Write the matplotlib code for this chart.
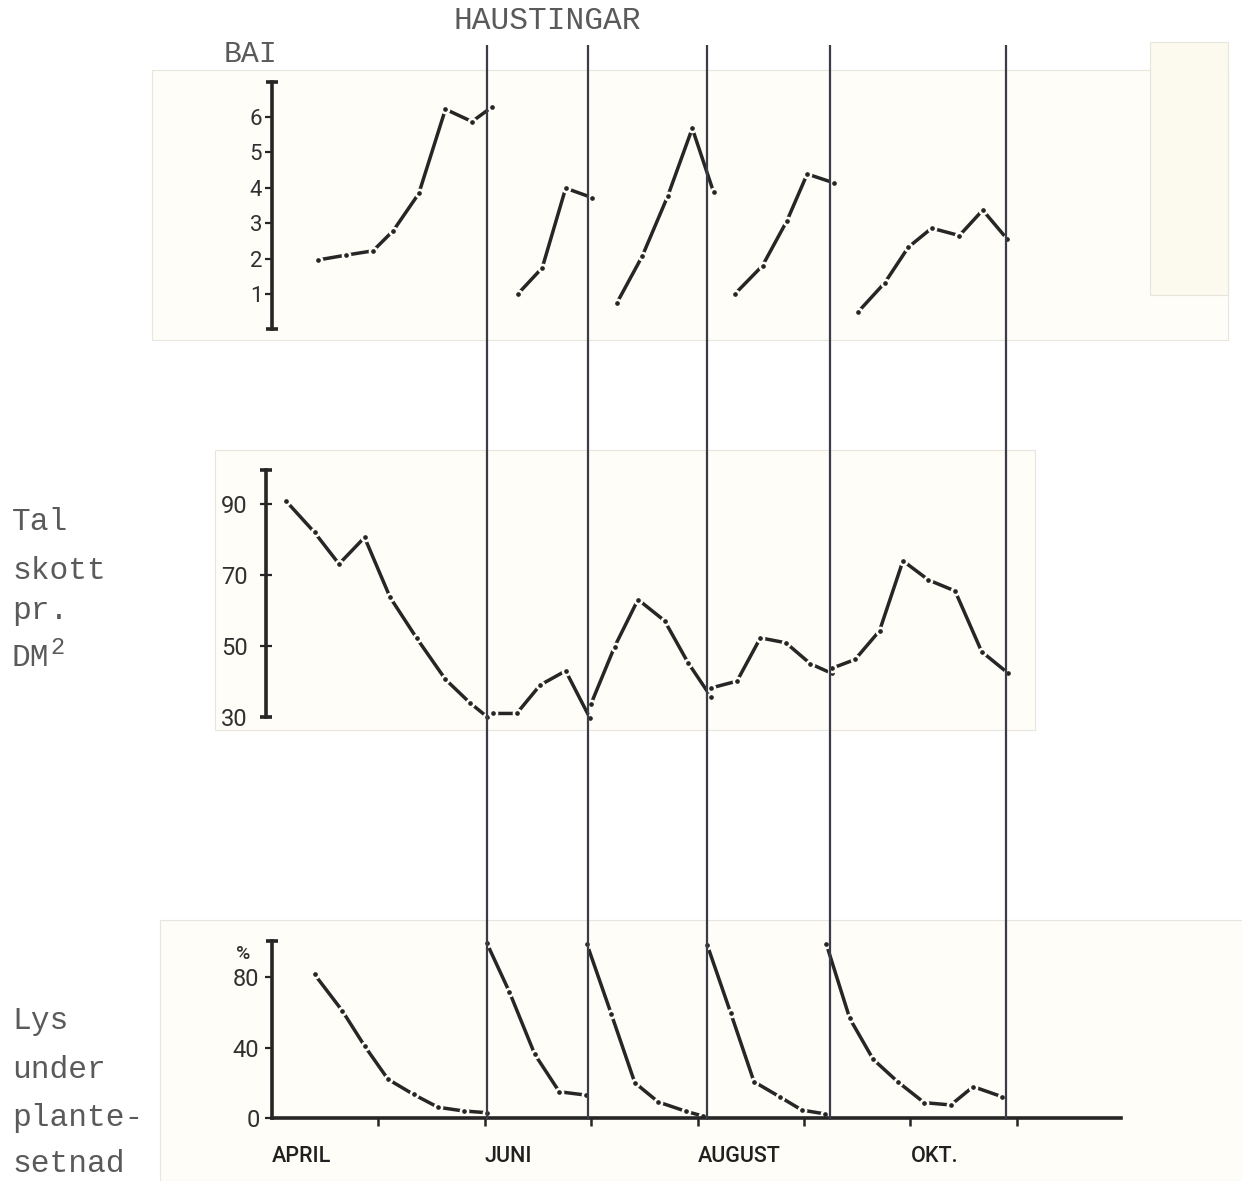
import matplotlib
matplotlib.use("Agg")
import matplotlib.pyplot as plt
from matplotlib.patches import Rectangle

# x = months after 1 April (0 = April, 2 = June, 4 = August, 6 = October)
harvests = [2.02, 2.97, 4.09, 5.24, 6.90]
month_ticks = [1, 2, 3, 4, 5, 6, 7]
month_names = ["APRIL", "JUNI", "AUGUST", "OKT."]
month_pos = [0, 2, 4, 6]

# BAI, one list per regrowth period
bai_x = [[0.43, 0.70, 0.95, 1.14, 1.38, 1.63, 1.88, 2.07],
         [2.31, 2.54, 2.76, 3.01],
         [3.24, 3.48, 3.72, 3.95, 4.15],
         [4.35, 4.61, 4.84, 5.03, 5.28],
         [5.51, 5.76, 5.98, 6.20, 6.46, 6.68, 6.91]]
bai_y = [[1.96, 2.10, 2.22, 2.79, 3.84, 6.22, 5.87, 6.29],
         [1.00, 1.74, 3.99, 3.72],
         [0.74, 2.07, 3.77, 5.68, 3.88],
         [1.00, 1.80, 3.07, 4.39, 4.14],
         [0.50, 1.32, 2.32, 2.86, 2.65, 3.37, 2.55]]

# Tal skott pr. dm2
skott_x = [[0.13, 0.40, 0.63, 0.87, 1.11, 1.36, 1.63, 1.86, 2.02],
           [2.08, 2.30, 2.52, 2.76, 2.99],
           [3.00, 3.22, 3.44, 3.69, 3.91, 4.13],
           [4.13, 4.37, 4.59, 4.83, 5.06, 5.26],
           [5.26, 5.48, 5.71, 5.93, 6.17, 6.42, 6.67, 6.92]]
skott_y = [[90.9, 82.0, 73.1, 80.6, 63.7, 52.2, 40.6, 34.0, 30.1],
           [31.0, 31.0, 39.0, 43.0, 29.6],
           [33.8, 49.8, 63.1, 57.1, 45.3, 35.5],
           [38.2, 40.1, 52.3, 50.9, 45.0, 42.3],
           [43.7, 46.2, 54.3, 74.0, 68.6, 65.5, 48.4, 42.3]]

# Lys under plantesetnad (%)
lys_x = [[0.40, 0.66, 0.87, 1.09, 1.33, 1.56, 1.80, 2.02],
         [2.02, 2.23, 2.47, 2.70, 2.95],
         [2.96, 3.19, 3.41, 3.63, 3.89, 4.05],
         [4.09, 4.31, 4.53, 4.77, 4.98, 5.20],
         [5.21, 5.43, 5.65, 5.88, 6.13, 6.38, 6.59, 6.86]]
lys_y = [[81.5, 60.9, 40.9, 22.0, 13.4, 6.1, 4.0, 3.0],
         [99.1, 71.7, 36.1, 14.9, 13.0],
         [98.7, 58.8, 20.0, 9.1, 3.8, 1.1],
         [98.3, 59.8, 20.6, 12.1, 4.5, 2.3],
         [98.7, 56.5, 33.3, 20.6, 8.7, 7.4, 17.8, 12.1]]

W, H = 1242, 1181
PPM = 106.4          # pixels per month
X0 = 272             # pixel of 1 April
XMIN, XMAX = -0.1, 8.0
ink = "#262626"
paper = "#fefdf8"
typecol = "#5a5a5a"
numfont = "Roboto"
typefont = "Liberation Mono"

fig = plt.figure(figsize=(W / 100, H / 100), dpi=100)
fig.patch.set_facecolor("white")

# pasted paper strips
for (x, y, w, h, c) in [(152, 70, 1076, 270, paper), (1150, 42, 78, 253, "#fcfaee"),
                        (215, 450, 820, 280, paper), (160, 920, 1082, 261, paper)]:
    fig.patches.append(Rectangle((x / W, 1 - (y + h) / H), w / W, h / H,
                                 transform=fig.transFigure, facecolor=c,
                                 edgecolor="#e8e6dc", lw=0.8, zorder=-10))


def make_ax(top_px, bottom_px):
    left = (X0 + XMIN * PPM) / W
    width = (XMAX - XMIN) * PPM / W
    ax = fig.add_axes([left, 1 - bottom_px / H, width, (bottom_px - top_px) / H])
    ax.set_facecolor("none")
    ax.set_xlim(XMIN, XMAX)
    for s in ["top", "right", "bottom"]:
        ax.spines[s].set_visible(False)
    ax.spines["left"].set_linewidth(2.6)
    ax.spines["left"].set_color(ink)
    ax.set_xticks([])
    return ax


def draw_segments(ax, xs, ys):
    for x, y in zip(xs, ys):
        ax.plot(x, y, color=ink, lw=2.5, solid_capstyle="round",
                marker="o", ms=5.2, mfc=ink, mec=paper, mew=1.8, clip_on=False)


# top: BAI
ax1 = make_ax(81.6, 329.4)
ax1.set_ylim(0, 7)
ax1.spines["left"].set_position(("data", 0))
ax1.set_yticks([1, 2, 3, 4, 5, 6])
ax1.tick_params(axis="y", direction="out", length=5, width=1.6, color=ink,
                labelsize=16, pad=2, labelcolor="#303030")
ax1.plot([0, 0], [0, 7], ls="none", marker="_", ms=9, mew=2.6, color=ink, clip_on=False)
draw_segments(ax1, bai_x, bai_y)

# middle: shoots
ax2 = make_ax(470.3, 717)
ax2.set_ylim(30, 99.5)
ax2.spines["left"].set_position(("data", -0.06))
ax2.set_yticks([30, 50, 70, 90])
ax2.tick_params(axis="y", direction="inout", length=8, width=1.6, color=ink,
                labelsize=17, pad=9, labelcolor="#303030")
ax2.plot([-0.06, -0.06], [30, 99.5], ls="none", marker="_", ms=8, mew=2.6, color=ink,
         clip_on=False)
draw_segments(ax2, skott_x, skott_y)

# bottom: light
ax3 = make_ax(940.9, 1118)
ax3.set_ylim(0, 100.5)
ax3.spines["left"].set_position(("data", 0))
ax3.spines["bottom"].set_visible(True)
ax3.spines["bottom"].set_linewidth(2.6)
ax3.spines["bottom"].set_color(ink)
ax3.spines["bottom"].set_bounds(0, 7.98)
ax3.set_yticks([0, 40, 80])
ax3.tick_params(axis="y", direction="out", length=5, width=1.6, color=ink,
                labelsize=17, pad=4, labelcolor="#303030")
ax3.set_xticks(month_ticks)
ax3.set_xticklabels([])
ax3.tick_params(axis="x", direction="out", length=6, width=1.8, color=ink)
ax3.plot([0], [100.5], ls="none", marker="_", ms=8, mew=2.6, color=ink, clip_on=False)
draw_segments(ax3, lys_x, lys_y)
for name, pos in zip(month_names, month_pos):
    ax3.text(pos, -22, name, ha="left", va="center", fontsize=15.5, family=numfont,
             fontweight="medium", color="#202020")
ax3.text(-0.27, 93, "%", ha="center", va="center", fontsize=14, family=numfont,
         fontweight="medium", color="#303030")
for a in (ax1, ax2, ax3):
    for lab in a.get_yticklabels():
        lab.set_family(numfont)

# harvest lines across all three panels
ov = fig.add_axes([(X0 + XMIN * PPM) / W, 0, (XMAX - XMIN) * PPM / W, 1])
ov.set_xlim(XMIN, XMAX)
ov.set_ylim(0, 1)
ov.axis("off")
ov.vlines(harvests, (H - 1120) / H, (H - 45) / H, color="#3a3d48", lw=1.6)

# typewriter labels
fig.text(453 / W, 1 - 29 / H, "HAUSTINGAR", family=typefont, fontsize=22.5,
         color=typecol, va="baseline")
fig.text(224 / W, 1 - 62 / H, "BAI", family=typefont, fontsize=21.5,
         color=typecol, va="baseline")
for word, base in zip(["Tal", "skott", "pr.", "DM"], [530, 579, 619, 666]):
    fig.text(12 / W, 1 - base / H, word, family=typefont, fontsize=22.5,
             color=typecol, va="baseline")
fig.text(50 / W, 1 - 654 / H, "2", family=typefont, fontsize=17,
         color=typecol, va="baseline")
for word, base in zip(["Lys", "under", "plante-", "setnad"], [1029, 1078, 1126, 1172]):
    fig.text(12 / W, 1 - base / H, word, family=typefont, fontsize=22.5,
             color=typecol, va="baseline")

fig.savefig("out.png", dpi=100)
